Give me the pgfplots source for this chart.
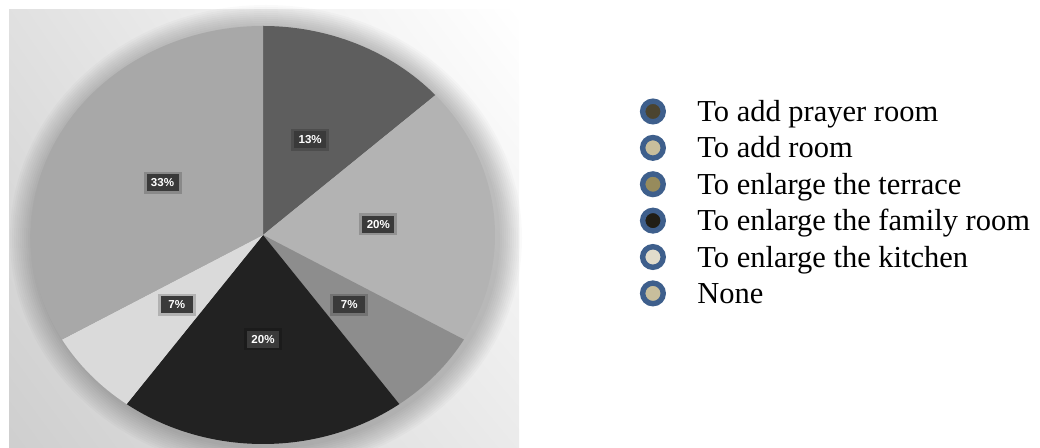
\documentclass[border=0pt]{standalone}
\usepackage{pgfplots}
\pgfplotsset{compat=1.18}
\usepackage{pgfplotstable}
\usetikzlibrary{shadings}
\usepackage{fontspec}
\setmainfont{Liberation Serif}
\setsansfont{Liberation Sans}

\definecolor{ringblue}{HTML}{3E5F8C}
\definecolor{lgA}{HTML}{4B4430}
\definecolor{lgB}{HTML}{C8BE9C}
\definecolor{lgC}{HTML}{978B5C}
\definecolor{lgD}{HTML}{211E15}
\definecolor{lgE}{HTML}{E1DCCB}
\definecolor{sA}{HTML}{5E5E5E}
\definecolor{sB}{HTML}{B3B3B3}
\definecolor{sC}{HTML}{8D8D8D}
\definecolor{sD}{HTML}{222222}
\definecolor{sE}{HTML}{DADADA}
\definecolor{sF}{HTML}{A8A8A8}
\definecolor{tagbg}{HTML}{3A3A3A}

% counts out of 15 answers, clockwise from 12 o'clock
\pgfplotstableread{
count pct slice
2 13 sA
3 20 sB
1 7 sC
3 20 sD
1 7 sE
5 33 sF
}\piedata

\pgfplotsset{ringmark/.style={legend image code/.code={
  \draw[draw=ringblue, line width=2.7bp, fill=#1] (6.5bp,0bp) circle[radius=5.15bp];}}}

\tikzset{tag/.style={fill=tagbg, text=white, inner sep=0pt, minimum width=16bp, minimum height=8.5bp,
  font=\sffamily\bfseries\fontsize{5.8}{6}\selectfont}}

\begin{document}
\begin{tikzpicture}
\useasboundingbox (0,0) rectangle (520bp,224bp);
\shade[upper left=black!12, upper right=white, lower left=black!19, lower right=black!8]
  (4.5bp,0bp) rectangle (259.5bp,219bp);
% soft shadow round the pie
\foreach \g in {1,2,...,12}
  \fill[black, opacity=0.018] (133bp,105bp) ellipse[x radius={116bp+\g bp}, y radius={104.5bp+\g bp}];

\begin{axis}[
  at={(131.5bp,106.5bp)}, anchor=center,
  x=116bp, y=104.5bp,
  xmin=-1.1, xmax=1.1, ymin=-1.1, ymax=1.1,
  hide axis, clip=false,
  legend style={at={(axis cs:1.623,0.68)}, anchor=north west, draw=none, fill=none,
    inner sep=0pt, column sep=14.75bp, row sep=0pt, cells={anchor=west},
    font=\fontsize{15.3}{18}\selectfont,
    nodes={inner sep=1pt, text height=13.1bp, text depth=3.1bp}},
]
\pgfplotstablegetrowsof{\piedata}
\pgfmathtruncatemacro\nrows{\pgfplotsretval-1}
\def\total{0}
\pgfplotsforeachungrouped \i in {0,...,\nrows}{%
  \pgfplotstablegetelem{\i}{count}\of\piedata
  \pgfmathsetmacro\total{\total+\pgfplotsretval}}
\def\angstart{90}
\pgfplotsforeachungrouped \i in {0,...,\nrows}{%
  \pgfplotstablegetelem{\i}{count}\of\piedata \let\cnt\pgfplotsretval
  \pgfplotstablegetelem{\i}{slice}\of\piedata \let\col\pgfplotsretval
  \pgfmathsetmacro\angend{\angstart-\cnt*360/\total}
  \edef\temp{\noexpand\fill[\col] (axis cs:0,0) -- (axis cs:{cos(\angstart)},{sin(\angstart)})
      arc[start angle=\angstart, end angle=\angend, x radius=116bp, y radius=104.5bp] -- cycle;}
  \temp
  \global\let\angstart\angend
}
\def\angstart{90}
\pgfplotsforeachungrouped \i in {0,...,\nrows}{%
  \pgfplotstablegetelem{\i}{count}\of\piedata \let\cnt\pgfplotsretval
  \pgfplotstablegetelem{\i}{pct}\of\piedata \let\pct\pgfplotsretval
  \pgfmathsetmacro\angend{\angstart-\cnt*360/\total}
  \pgfmathsetmacro\angmid{(\angstart+\angend)/2}
  \edef\temp{\noexpand\fill[black, opacity=0.18] (axis cs:{0.5*cos(\angmid)},{0.5*sin(\angmid)})
      ++(-9.5bp,-5.5bp) rectangle ++(19bp,11bp);
    \noexpand\node[tag] at (axis cs:{0.5*cos(\angmid)},{0.5*sin(\angmid)}) {\pct\noexpand\%};}
  \temp
  \global\let\angstart\angend
}
\addlegendimage{ringmark=lgA}\addlegendentry{To add prayer room}
\addlegendimage{ringmark=lgB}\addlegendentry{To add room}
\addlegendimage{ringmark=lgC}\addlegendentry{To enlarge the terrace}
\addlegendimage{ringmark=lgD}\addlegendentry{To enlarge the family room}
\addlegendimage{ringmark=lgE}\addlegendentry{To enlarge the kitchen}
\addlegendimage{ringmark=lgB}\addlegendentry{None}
\end{axis}
\end{tikzpicture}
\end{document}
